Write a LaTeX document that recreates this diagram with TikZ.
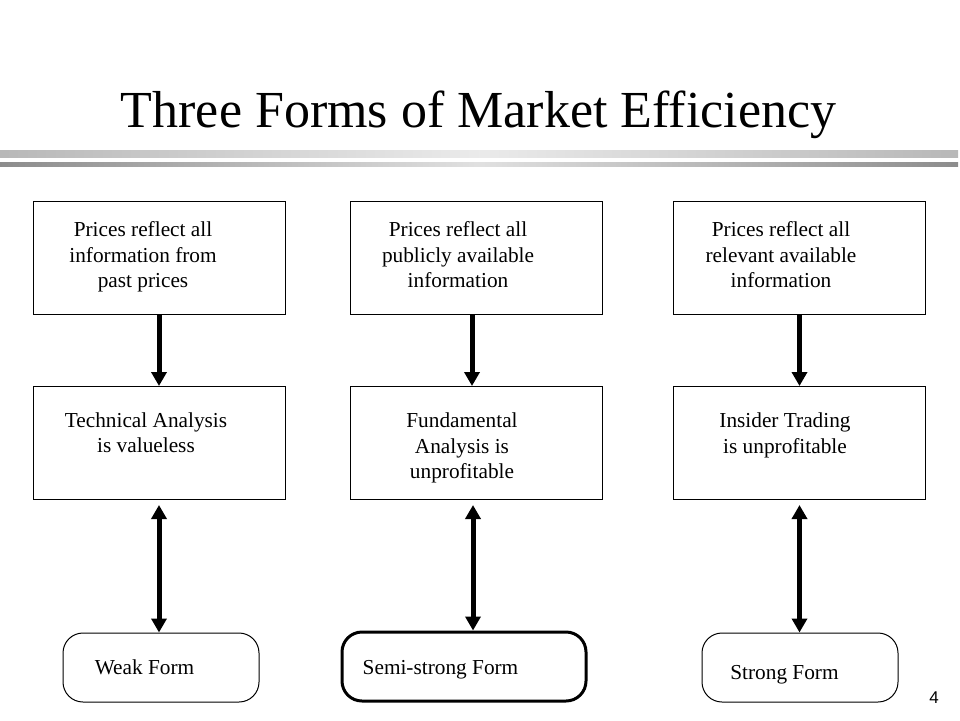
\documentclass[tikz,border=0pt]{standalone}
\usepackage{fontspec}
\setmainfont{Liberation Serif}
\newfontfamily\pagenumfont{Liberation Sans}
\usepackage{tikz}
\usetikzlibrary{
  arrows.meta,
  positioning
}
\tikzset{
  info box/.style={draw,line width=1pt,minimum width=252pt,minimum height=113pt,inner sep=0pt},
  form box/.style={draw,line width=1pt,rounded corners=20pt,minimum width=196pt,minimum height=69pt,inner sep=0pt},
  box text/.style={align=center,inner sep=0pt,font=\fontsize{21.3}{25.5}\selectfont},
  implies/.style={line width=5pt,-{Triangle[width=15pt,length=14pt]}},
  matches/.style={line width=5pt,{Triangle[width=15pt,length=14pt]}-{Triangle[width=15pt,length=14pt]},shorten <=5pt},
}
\colorlet{barend}{black!45}
\colorlet{barmid}{black!12}

\begin{document}
\begin{tikzpicture}[x=1pt,y=-1pt]
\useasboundingbox (0,0) rectangle (960,720);
\node[anchor=base,font=\fontsize{52}{60}\selectfont] (title) at (478.5,127) {Three Forms of Market Efficiency};
\shade[left color=black!28,right color=black!28,middle color=black!8] (0,150) rectangle (958,157);
\shade[left color=barend,right color=barend,middle color=barmid] (0,162) rectangle (958,166);

\node[info box] (past) at (159,257.5) {};
\node[info box] (public) at (476,257.5) {};
\node[info box] (relevant) at (799.5,257.5) {};
\node[info box] (technical) at (159,443) {};
\node[info box] (fundamental) at (476,443) {};
\node[info box] (insider) at (799.5,443) {};
\node[form box] (weak) at (161,667.5) {};
\node[form box,minimum width=244pt,line width=3pt] (semi) at (464,666.5) {};
\node[form box] (strong) at (800,667.5) {};

\node[box text,below=21pt of past.north,xshift=-16pt] (pastT) {Prices reflect all\\information from\\past prices};
\node[box text,below=21pt of public.north,xshift=-18pt] (publicT) {Prices reflect all\\publicly available\\information};
\node[box text,below=21pt of relevant.north,xshift=-18.5pt] (relevantT) {Prices reflect all\\relevant available\\information};
\node[box text,below=26.5pt of technical.north,xshift=-13pt] (technicalT) {Technical Analysis\\is valueless};
\node[box text,below=27pt of fundamental.north,xshift=-14pt] (fundamentalT) {Fundamental\\Analysis is\\unprofitable};
\node[box text,below=27pt of insider.north,xshift=-14.5pt] (insiderT) {Insider Trading\\is unprofitable};
\node[box text,anchor=base] (weakT) at ([shift={(-16.5,6.5)}]weak.center) {Weak Form};
\node[box text,anchor=base] (semiT) at ([shift={(-23.5,7.5)}]semi.center) {Semi-strong Form};
\node[box text,anchor=base] (strongT) at ([shift={(-15.5,11.5)}]strong.center) {Strong Form};

\draw[implies] (past) -- (technical);
\draw[implies] ([xshift=-4pt]public.south) -- ([xshift=-4pt]fundamental.north);
\draw[implies] (relevant) -- (insider);
\draw[matches] (technical.south) -- (technical.south |- weak.north);
\draw[matches] ([xshift=-3pt]fundamental.south) -- ([xshift=-3pt]fundamental.south |- semi.north);
\draw[matches] (insider.south) -- (insider.south |- strong.north);

\node[anchor=base,font=\pagenumfont\fontsize{17}{20}\selectfont] (page) at (934,703) {4};
\end{tikzpicture}
\end{document}
